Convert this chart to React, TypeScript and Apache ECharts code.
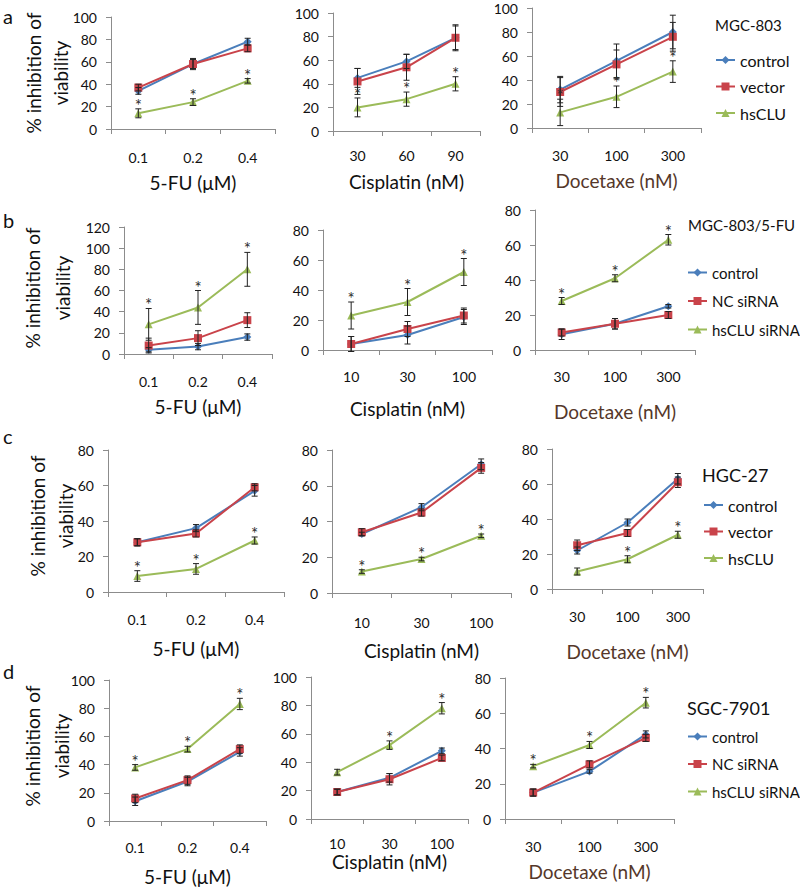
import React, { useEffect, useRef } from 'react';
import * as echarts from 'echarts';

// ---- categories ----
const fuDoses = ['0.1', '0.2', '0.4'];
const cisDosesA = ['30', '60', '90'];
const cisDosesB = ['10', '30', '100'];
const docDoses = ['30', '100', '300'];

const namesOver = ['control', 'vector', 'hsCLU'];
const namesSi = ['control', 'NC siRNA', 'hsCLU siRNA'];

// ---- row a : MGC-803 ----
const a1Control = [34, 58, 78]; const a1ControlErr = [3, 4, 3];
const a1Vector = [37, 58, 72]; const a1VectorErr = [3, 5, 3];
const a1Clu = [14, 24, 43]; const a1CluErr = [4, 3, 2];
const a1Stars = [1, 1, 1];

const a2Control = [45, 59, 79]; const a2ControlErr = [8, 6, 10];
const a2Vector = [42, 54, 79]; const a2VectorErr = [11, 11, 11];
const a2Clu = [20, 27, 40]; const a2CluErr = [8, 6, 6];
const a2Stars = [1, 1, 1];

const a3Control = [32, 56, 80]; const a3ControlErr = [11, 14, 14];
const a3Vector = [30, 53, 76]; const a3VectorErr = [12, 12, 12];
const a3Clu = [13, 26, 47]; const a3CluErr = [11, 9, 9];
const a3Stars = [1, 1, 1];

// ---- row b : MGC-803/5-FU ----
const b1Control = [4, 7, 16]; const b1ControlErr = [2, 3, 3];
const b1Nc = [8, 15, 32]; const b1NcErr = [7, 7, 7];
const b1Clu = [28, 44, 80]; const b1CluErr = [15, 16, 16];
const b1Stars = [1, 1, 1];

const b2Control = [4, 10, 22]; const b2ControlErr = [5, 6, 5];
const b2Nc = [4, 14, 23]; const b2NcErr = [5, 5, 5];
const b2Clu = [23, 32, 52]; const b2CluErr = [9, 9, 9];
const b2Stars = [1, 1, 1];

const b3Control = [9, 15, 25]; const b3ControlErr = [3, 3, 1];
const b3Nc = [10, 15, 20]; const b3NcErr = [2, 3, 2];
const b3Clu = [28, 41, 63]; const b3CluErr = [2, 2, 3];
const b3Stars = [1, 1, 1];

// ---- row c : HGC-27 ----
const c1Control = [28, 36, 57]; const c1ControlErr = [2, 2, 3];
const c1Vector = [28, 33, 59]; const c1VectorErr = [2, 2, 2];
const c1Clu = [9, 13, 29]; const c1CluErr = [3, 3, 2];
const c1Stars = [1, 1, 1];

const c2Control = [33, 48, 72]; const c2ControlErr = [1, 2, 3];
const c2Vector = [34, 45, 70]; const c2VectorErr = [2, 2, 3];
const c2Clu = [12, 19, 32]; const c2CluErr = [1, 1, 1];
const c2Stars = [1, 1, 1];

const c3Control = [22, 38, 63]; const c3ControlErr = [2, 2, 3];
const c3Vector = [25, 32, 61]; const c3VectorErr = [3, 2, 3];
const c3Clu = [10, 17, 31]; const c3CluErr = [2, 2, 2];
const c3Stars = [0, 1, 1];

// ---- row d : SGC-7901 ----
const d1Control = [14, 28, 49]; const d1ControlErr = [3, 3, 3];
const d1Nc = [16, 29, 51]; const d1NcErr = [3, 3, 3];
const d1Clu = [38, 51, 83]; const d1CluErr = [2, 2, 4];
const d1Stars = [1, 1, 1];

const d2Control = [19, 29, 48]; const d2ControlErr = [2, 3, 2];
const d2Nc = [19, 28, 43]; const d2NcErr = [2, 4, 2];
const d2Clu = [33, 52, 78]; const d2CluErr = [2, 3, 4];
const d2Stars = [0, 1, 1];

const d3Control = [15, 27, 48]; const d3ControlErr = [2, 1, 2];
const d3Nc = [15, 31, 46]; const d3NcErr = [2, 2, 2];
const d3Clu = [30, 42, 66]; const d3CluErr = [1, 2, 3];
const d3Stars = [1, 1, 1];

const yMaxes = [100, 100, 100, 120, 80, 80, 80, 80, 80, 100, 100, 80];
const xNames = ['5-FU (μM)', 'Cisplatin (nM)', 'Docetaxe (nM)'];

const FONT = 'Lato';
const COLORS = ['#4A7EBB', '#C9434A', '#9BBB59'];
const SYMBOLS = ['diamond', 'rect', 'triangle'];
const SYMSIZE = [8, 8, 8];

// layout (pixels)
const GRIDS = [
  { left: 111, top: 17, width: 164, height: 112 },
  { left: 333, top: 13, width: 147, height: 118 },
  { left: 532, top: 8, width: 169, height: 120 },
  { left: 124, top: 227, width: 148, height: 127 },
  { left: 323, top: 230, width: 169, height: 120 },
  { left: 535, top: 210, width: 160, height: 140 },
  { left: 108, top: 450, width: 176, height: 142 },
  { left: 332, top: 450, width: 179, height: 143 },
  { left: 552, top: 449, width: 151, height: 140 },
  { left: 109, top: 680, width: 157, height: 141 },
  { left: 311, top: 677, width: 157, height: 142 },
  { left: 505, top: 678, width: 169, height: 141 },
];
const NAME_GAPS = [44, 41, 43, 43, 49, 52, 47, 48, 53, 46, 33, 43];
const LABEL_MARGINS = [21, 17, 20, 20, 19, 19, 20, 22, 20, 19, 17, 20];

type Panel = {
  cats: string[];
  names: string[];
  vals: number[][];
  errs: number[][];
  stars: number[];
};

const panels: Panel[] = [
  { cats: fuDoses, names: namesOver, vals: [a1Control, a1Vector, a1Clu], errs: [a1ControlErr, a1VectorErr, a1CluErr], stars: a1Stars },
  { cats: cisDosesA, names: namesOver, vals: [a2Control, a2Vector, a2Clu], errs: [a2ControlErr, a2VectorErr, a2CluErr], stars: a2Stars },
  { cats: docDoses, names: namesOver, vals: [a3Control, a3Vector, a3Clu], errs: [a3ControlErr, a3VectorErr, a3CluErr], stars: a3Stars },
  { cats: fuDoses, names: namesSi, vals: [b1Control, b1Nc, b1Clu], errs: [b1ControlErr, b1NcErr, b1CluErr], stars: b1Stars },
  { cats: cisDosesB, names: namesSi, vals: [b2Control, b2Nc, b2Clu], errs: [b2ControlErr, b2NcErr, b2CluErr], stars: b2Stars },
  { cats: docDoses, names: namesSi, vals: [b3Control, b3Nc, b3Clu], errs: [b3ControlErr, b3NcErr, b3CluErr], stars: b3Stars },
  { cats: fuDoses, names: namesOver, vals: [c1Control, c1Vector, c1Clu], errs: [c1ControlErr, c1VectorErr, c1CluErr], stars: c1Stars },
  { cats: cisDosesB, names: namesOver, vals: [c2Control, c2Vector, c2Clu], errs: [c2ControlErr, c2VectorErr, c2CluErr], stars: c2Stars },
  { cats: docDoses, names: namesOver, vals: [c3Control, c3Vector, c3Clu], errs: [c3ControlErr, c3VectorErr, c3CluErr], stars: c3Stars },
  { cats: fuDoses, names: namesSi, vals: [d1Control, d1Nc, d1Clu], errs: [d1ControlErr, d1NcErr, d1CluErr], stars: d1Stars },
  { cats: cisDosesB, names: namesSi, vals: [d2Control, d2Nc, d2Clu], errs: [d2ControlErr, d2NcErr, d2CluErr], stars: d2Stars },
  { cats: docDoses, names: namesSi, vals: [d3Control, d3Nc, d3Clu], errs: [d3ControlErr, d3NcErr, d3CluErr], stars: d3Stars },
];

function buildOption() {
  const grid: any[] = [];
  const xAxis: any[] = [];
  const yAxis: any[] = [];
  const series: any[] = [];

  panels.forEach((p, i) => {
    grid.push({ ...GRIDS[i], containLabel: false });
    const col = i % 3;
    xAxis.push({
      type: 'category',
      gridIndex: i,
      data: p.cats,
      boundaryGap: true,
      axisLine: { lineStyle: { color: '#8c8c8c', width: 1 } },
      axisTick: { show: true, length: 5, lineStyle: { color: '#8c8c8c' } },
      axisLabel: { fontSize: 14, color: '#111', fontFamily: FONT, margin: LABEL_MARGINS[i] },
      name: xNames[col],
      nameLocation: 'middle',
      nameGap: NAME_GAPS[i],
      nameTextStyle: { fontSize: 19, fontFamily: FONT, color: col === 2 ? '#55372a' : '#111' },
      splitLine: { show: false },
    });
    yAxis.push({
      type: 'value',
      gridIndex: i,
      min: 0,
      max: yMaxes[i],
      interval: 20,
      axisLine: { show: true, lineStyle: { color: '#8c8c8c', width: 1 } },
      axisTick: { show: true, length: 5, lineStyle: { color: '#8c8c8c' } },
      axisLabel: { fontSize: 14, color: '#111', fontFamily: FONT, margin: 14 },
      splitLine: { show: false },
    });
    p.vals.forEach((v, s) => {
      series.push({
        type: 'line',
        name: p.names[s],
        xAxisIndex: i,
        yAxisIndex: i,
        data: v,
        symbol: SYMBOLS[s],
        symbolSize: SYMSIZE[s],
        color: COLORS[s],
        lineStyle: { width: 2, color: COLORS[s] },
        itemStyle: { color: COLORS[s] },
        z: 2,
      });
    });
    const ebData: any[] = [];
    p.vals.forEach((v, s) => {
      v.forEach((val, k) => {
        ebData.push([k, val, p.errs[s][k], s === 2 ? p.stars[k] : 0]);
      });
    });
    series.push({
      type: 'custom',
      xAxisIndex: i,
      yAxisIndex: i,
      data: ebData,
      encode: { x: 0, y: 1 },
      z: 3,
      silent: true,
      clip: false,
      renderItem: (params: any, api: any) => {
        const x = api.value(0);
        const y = api.value(1);
        const e = api.value(2);
        const st = api.value(3);
        const top = api.coord([x, y + e]);
        const bot = api.coord([x, y - e]);
        const cap = 3;
        const ls = { stroke: '#222', lineWidth: 1 };
        const children: any[] = [
          { type: 'line', shape: { x1: top[0], y1: top[1], x2: bot[0], y2: bot[1] }, style: ls },
          { type: 'line', shape: { x1: top[0] - cap, y1: top[1], x2: top[0] + cap, y2: top[1] }, style: ls },
          { type: 'line', shape: { x1: bot[0] - cap, y1: bot[1], x2: bot[0] + cap, y2: bot[1] }, style: ls },
        ];
        if (st) {
          children.push({
            type: 'text',
            x: top[0],
            y: top[1] + 5,
            style: { text: '*', fill: '#2e2e2e', fontSize: 17, fontFamily: FONT, align: 'center', verticalAlign: 'bottom' },
          });
        }
        return { type: 'group', children };
      },
    });
  });

  const legendBase = {
    orient: 'vertical',
    itemWidth: 19,
    itemHeight: 10,
    padding: 0,
    selectedMode: false,
    textStyle: { fontSize: 16, fontFamily: FONT, color: '#111' },
  };
  const legend = [
    { ...legendBase, data: namesOver, left: 715, top: 52, itemGap: 10.5 },
    { ...legendBase, data: namesSi, left: 687, top: 265, itemGap: 13.5, textStyle: { ...legendBase.textStyle, fontSize: 15 } },
    { ...legendBase, data: namesOver, left: 703, top: 497, itemGap: 10.5 },
    { ...legendBase, data: namesSi, left: 687, top: 729, itemGap: 12.5, textStyle: { ...legendBase.textStyle, fontSize: 15 } },
  ];

  const yLabel = (cx1: number, cx2: number, cy: number) => [
    {
      type: 'text', x: cx1, y: cy, rotation: Math.PI / 2,
      style: { text: '% inhibition of', fontSize: 19, fontFamily: FONT, fill: '#111', align: 'center', verticalAlign: 'middle' },
    },
    {
      type: 'text', x: cx2, y: cy, rotation: Math.PI / 2,
      style: { text: 'viability', fontSize: 19, fontFamily: FONT, fill: '#111', align: 'center', verticalAlign: 'middle' },
    },
  ];
  const letter = (t: string, x: number, y: number) => ({
    type: 'text', x, y,
    style: { text: t, fontSize: 20, fontFamily: FONT, fill: '#111', align: 'left', verticalAlign: 'middle' },
  });
  const title = (t: string, x: number, y: number, fs: number) => ({
    type: 'text', x, y,
    style: { text: t, fontSize: fs, fontFamily: FONT, fill: '#111', align: 'left', verticalAlign: 'middle' },
  });

  const graphic = [
    ...yLabel(33, 60, 73),
    ...yLabel(32, 62, 288),
    ...yLabel(37, 65, 516),
    ...yLabel(32, 61, 746),
    letter('a', 3, 16),
    letter('b', 3, 220),
    letter('c', 3, 436),
    letter('d', 3, 671),
    title('MGC-803', 715, 25, 15),
    title('MGC-803/5-FU', 688, 225, 15),
    title('HGC-27', 702, 475, 18),
    title('SGC-7901', 687, 708, 18),
  ];

  return {
    animation: false,
    backgroundColor: '#ffffff',
    grid,
    xAxis,
    yAxis,
    series,
    legend,
    graphic,
  };
}

export default function App() {
  const ref = useRef<HTMLDivElement>(null);
  useEffect(() => {
    if (!ref.current) return;
    const chart = echarts.init(ref.current, undefined, { renderer: 'svg' });
    chart.setOption(buildOption() as any);
    return () => chart.dispose();
  }, []);
  return <div ref={ref} style={{ position: 'absolute', left: 0, top: 0, width: 800, height: 889 }} />;
}
